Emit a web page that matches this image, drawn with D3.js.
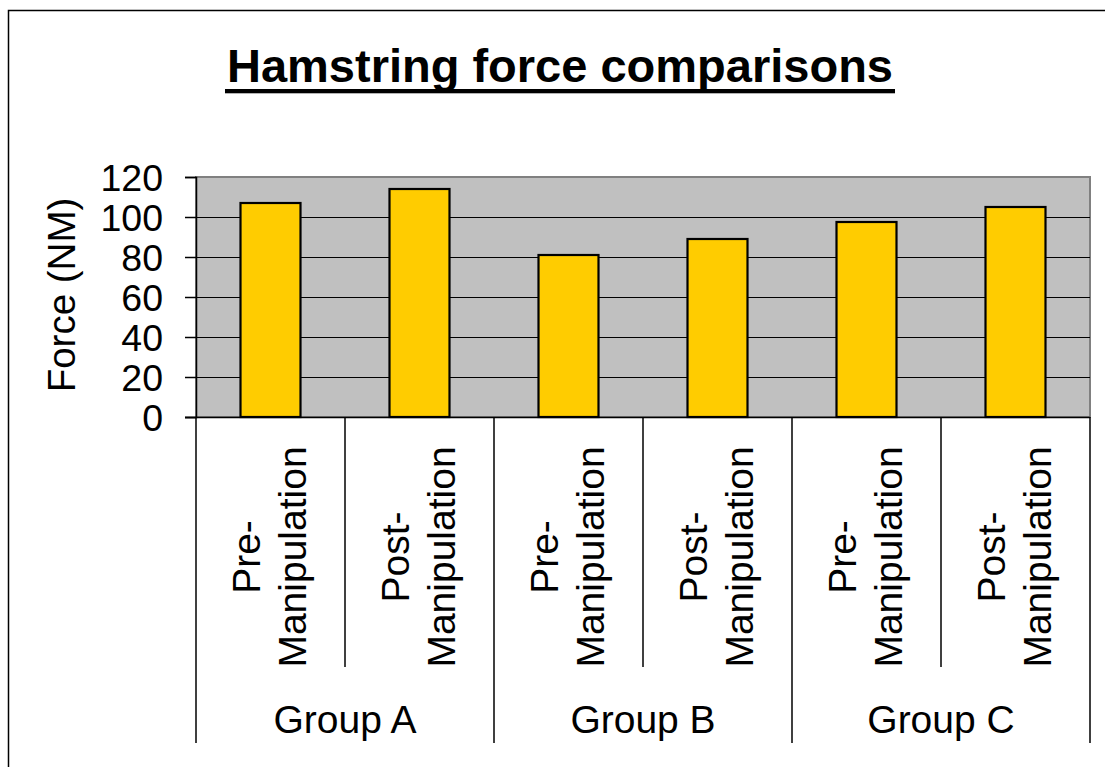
<!DOCTYPE html>
<html>
<head>
<meta charset="utf-8">
<script src="https://cdn.jsdelivr.net/npm/d3@7"></script>
<style>
  html, body { margin: 0; padding: 0; background: #fff; }
  svg { display: block; font-family: Arial, "Liberation Sans", sans-serif; }
</style>
</head>
<body>
<svg id="chart" width="1105" height="767"></svg>
<script>
// Hamstring force (NM) per group, before and after manipulation
const groups = ["Group A", "Group B", "Group C"];
const phases = [["Pre-", "Manipulation"], ["Post-", "Manipulation"]];
const forceValues = [107, 114, 81, 89, 97.5, 105];
const yTicks = [0, 20, 40, 60, 80, 100, 120];

const svg = d3.select("#chart");

// outer chart frame (extends past the right/bottom edges)
svg.append("rect")
  .attr("x", 8.5).attr("y", 10.5)
  .attr("width", 1200).attr("height", 900)
  .attr("fill", "#fff").attr("stroke", "#000").attr("stroke-width", 1.5);

const plot = { left: 196, right: 1090, top: 177, bottom: 417 };

// flat category list: one entry per bar
const cats = [];
groups.forEach((g, gi) => phases.forEach((p, pi) => cats.push({ group: g, gi, pi, lines: p, key: g + "|" + pi })));

const x = d3.scaleBand()
  .domain(cats.map(c => c.key))
  .range([plot.left, plot.right])
  .paddingInner(0).paddingOuter(0);

const y = d3.scaleLinear().domain([0, 120]).range([plot.bottom, plot.top]);

// plot background
svg.append("rect")
  .attr("x", plot.left).attr("y", plot.top)
  .attr("width", plot.right - plot.left).attr("height", plot.bottom - plot.top)
  .attr("fill", "#c0c0c0").attr("stroke", "#808080").attr("stroke-width", 2);

// horizontal gridlines
svg.append("g").selectAll("line")
  .data(yTicks.filter(t => t > 0 && t < 120))
  .join("line")
  .attr("x1", plot.left).attr("x2", plot.right)
  .attr("y1", d => Math.round(y(d)) + 0.5).attr("y2", d => Math.round(y(d)) + 0.5)
  .attr("stroke", "#000").attr("stroke-width", 1);

// bars
const barW = 60;
svg.append("g").selectAll("rect")
  .data(cats.map((c, i) => ({ key: c.key, v: forceValues[i] })))
  .join("rect")
  .attr("x", d => x(d.key) + (x.bandwidth() - barW) / 2)
  .attr("y", d => y(d.v))
  .attr("width", barW)
  .attr("height", d => y(0) - y(d.v))
  .attr("fill", "#ffcc00")
  .attr("stroke", "#000").attr("stroke-width", 2.2);

// y axis
const yAxis = d3.axisLeft(y).tickValues(yTicks).tickSize(11).tickPadding(22);
const yg = svg.append("g").attr("transform", `translate(${plot.left},0)`).call(yAxis);
yg.select(".domain").attr("stroke", "#000").attr("stroke-width", 1.5);
yg.selectAll(".tick line").attr("stroke", "#000").attr("stroke-width", 1.5);
yg.selectAll(".tick text")
  .attr("font-size", 37.5).attr("fill", "#000")
  .attr("font-family", "Arial, 'Liberation Sans', sans-serif")
  .attr("dy", "0.36em");

// category axis baseline
svg.append("line")
  .attr("x1", plot.left - 11).attr("x2", plot.right)
  .attr("y1", plot.bottom + 0.5).attr("y2", plot.bottom + 0.5)
  .attr("stroke", "#000").attr("stroke-width", 1.5);

// dividers: short ones between phases, long ones between groups
const dividers = d3.range(cats.length + 1).map(i => ({
  x: i < cats.length ? x(cats[i].key) : plot.right,
  long: i % 2 === 0
}));
svg.append("g").selectAll("line")
  .data(dividers)
  .join("line")
  .attr("x1", d => d.x).attr("x2", d => d.x)
  .attr("y1", plot.bottom).attr("y2", d => d.long ? 743 : 667)
  .attr("stroke", "#000").attr("stroke-width", 1.5);

// rotated two-line phase labels
const labG = svg.append("g").selectAll("g")
  .data(cats)
  .join("g")
  .attr("transform", d => `translate(${x(d.key) + x.bandwidth() / 2},557) rotate(-90)`);
labG.selectAll("text")
  .data(d => d.lines.map((t, i) => ({ t, i })))
  .join("text")
  .attr("x", 0)
  .attr("y", d => d.i === 0 ? -10.5 : 35.5)
  .attr("text-anchor", "middle")
  .attr("font-size", 39)
  .attr("fill", "#000")
  .text(d => d.t);

// group labels
const gx = d3.scaleBand().domain(groups).range([plot.left, plot.right]);
svg.append("g").selectAll("text")
  .data(groups)
  .join("text")
  .attr("x", d => gx(d) + gx.bandwidth() / 2)
  .attr("y", 733)
  .attr("text-anchor", "middle")
  .attr("font-size", 39)
  .attr("fill", "#000")
  .text(d => d);

// y axis title
svg.append("text")
  .attr("transform", "translate(75,295) rotate(-90)")
  .attr("text-anchor", "middle")
  .attr("font-size", 38.5)
  .attr("fill", "#000")
  .text("Force (NM)");

// chart title with underline
const title = svg.append("text")
  .attr("x", 560).attr("y", 82)
  .attr("text-anchor", "middle")
  .attr("font-size", 47).attr("font-weight", "bold")
  .attr("fill", "#000")
  .text("Hamstring force comparisons");
const bb = title.node().getBBox();
svg.append("rect")
  .attr("x", bb.x - 2).attr("y", 89)
  .attr("width", bb.width + 4).attr("height", 4.3)
  .attr("fill", "#000");
</script>
</body>
</html>
